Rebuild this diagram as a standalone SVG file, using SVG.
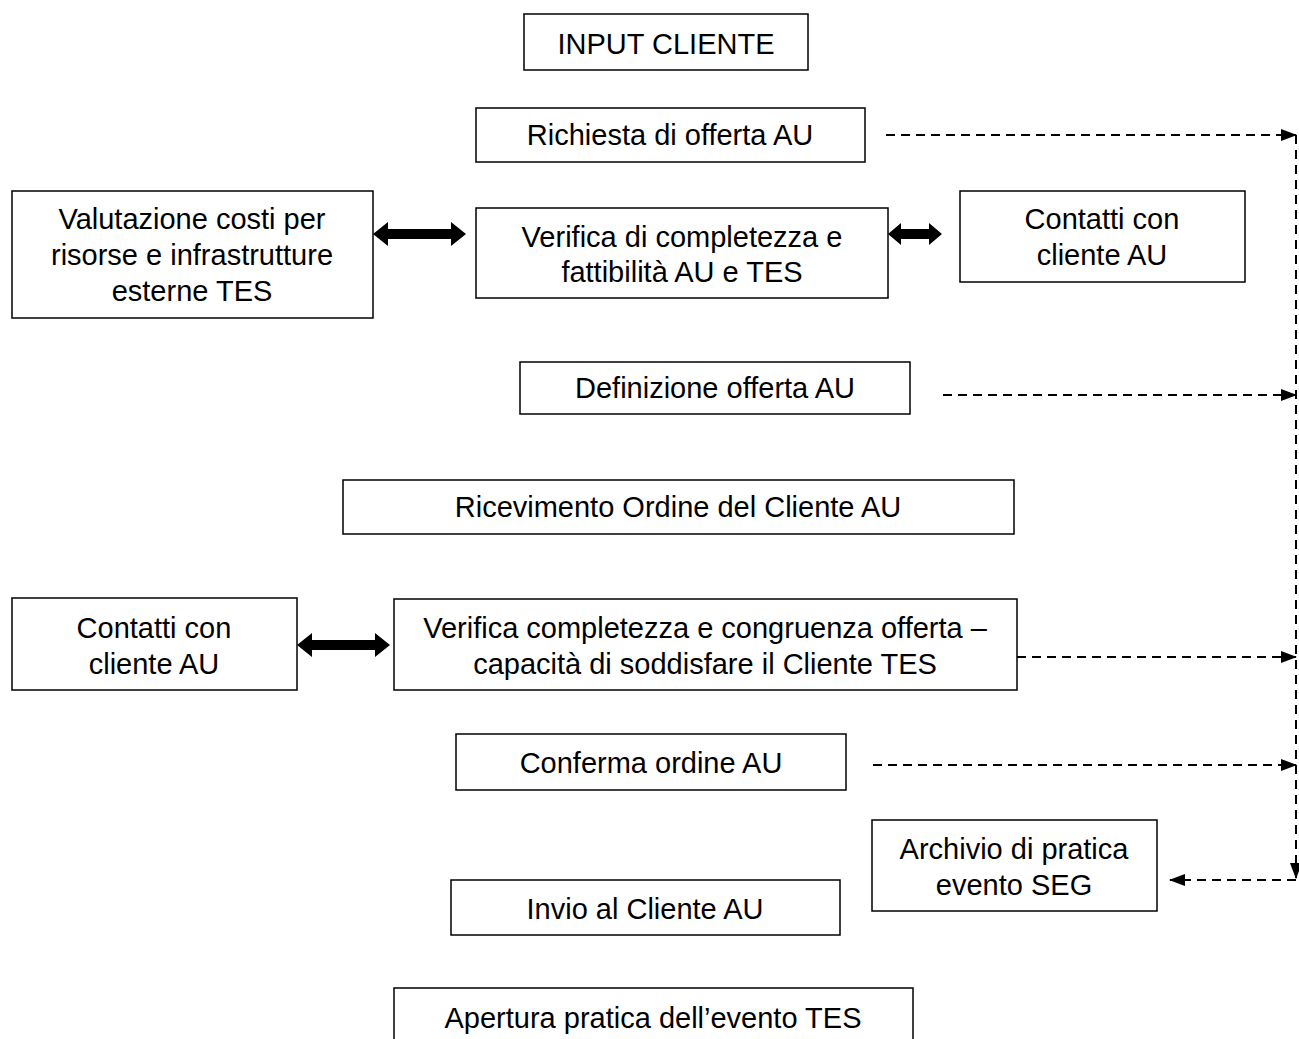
<svg xmlns="http://www.w3.org/2000/svg" width="1299" height="1039" viewBox="0 0 1299 1039">
<defs>
<style>
.box{fill:#fff;stroke:#000;stroke-width:1.5}
.t{font-family:"Liberation Sans",Arial,sans-serif;font-size:29px;fill:#000;text-anchor:middle}
.d{fill:none;stroke:#000;stroke-width:2;stroke-dasharray:9 6}
.dbl{fill:#000}
</style>
<marker id="ah" markerWidth="16" markerHeight="14" refX="15" refY="7" orient="auto" markerUnits="userSpaceOnUse">
<path d="M0,1 L16,7 L0,13 Z" fill="#000"/>
</marker>
</defs>
<rect width="1299" height="1039" fill="#fff"/>
<g id="n1"><rect class="box" x="524" y="14" width="284" height="56"/><text class="t" x="666" y="54">INPUT CLIENTE</text></g>
<g id="n2"><rect class="box" x="476" y="108" width="389" height="54"/><text class="t" x="670" y="145">Richiesta di offerta AU</text></g>
<g id="n3"><rect class="box" x="12" y="191" width="361" height="127"/><text class="t" x="192" y="229">Valutazione costi per</text><text class="t" x="192" y="265">risorse e infrastrutture</text><text class="t" x="192" y="301">esterne TES</text></g>
<g id="n4"><rect class="box" x="476" y="208" width="412" height="90"/><text class="t" x="682" y="247">Verifica di completezza e</text><text class="t" x="682" y="282">fattibilità AU e TES</text></g>
<g id="n5"><rect class="box" x="960" y="191" width="285" height="91"/><text class="t" x="1102" y="229">Contatti con</text><text class="t" x="1102" y="265">cliente AU</text></g>
<g id="n6"><rect class="box" x="520" y="362" width="390" height="52"/><text class="t" x="715" y="398">Definizione offerta AU</text></g>
<g id="n7"><rect class="box" x="343" y="480" width="671" height="54"/><text class="t" x="678" y="517">Ricevimento Ordine del Cliente AU</text></g>
<g id="n8"><rect class="box" x="12" y="598" width="285" height="92"/><text class="t" x="154" y="638">Contatti con</text><text class="t" x="154" y="674">cliente AU</text></g>
<g id="n9"><rect class="box" x="394" y="599" width="623" height="91"/><text class="t" x="705" y="638">Verifica completezza e congruenza offerta –</text><text class="t" x="705" y="674">capacità di soddisfare il Cliente TES</text></g>
<g id="n10"><rect class="box" x="456" y="734" width="390" height="56"/><text class="t" x="651" y="773">Conferma ordine AU</text></g>
<g id="n11"><rect class="box" x="872" y="820" width="285" height="91"/><text class="t" x="1014" y="859">Archivio di pratica</text><text class="t" x="1014" y="895">evento SEG</text></g>
<g id="n12"><rect class="box" x="451" y="880" width="389" height="55"/><text class="t" x="645" y="919">Invio al Cliente AU</text></g>
<g id="n13"><rect class="box" x="394" y="988" width="519" height="60"/><text class="t" x="653" y="1028">Apertura pratica dell’evento TES</text></g>
<g id="connectors">
<path class="d" d="M886,135 H1296" marker-end="url(#ah)"/>
<path class="d" d="M943,395 H1296" marker-end="url(#ah)"/>
<path class="d" d="M1017,657 H1296" marker-end="url(#ah)"/>
<path class="d" d="M873,765 H1296" marker-end="url(#ah)"/>
<path class="d" d="M1296,135 V878" marker-end="url(#ah)"/>
<path class="d" d="M1296,880 H1170" marker-end="url(#ah)"/>
<polygon class="dbl" points="373,234 388,222 388,229 451,229 451,222 466,234 451,246 451,239 388,239 388,246"/>
<polygon class="dbl" points="888,234 901,223 901,229 929,229 929,223 942,234 929,245 929,239 901,239 901,245"/>
<polygon class="dbl" points="297,645 312,633 312,640 375,640 375,633 390,645 375,657 375,650 312,650 312,657"/>
</g>
</svg>
